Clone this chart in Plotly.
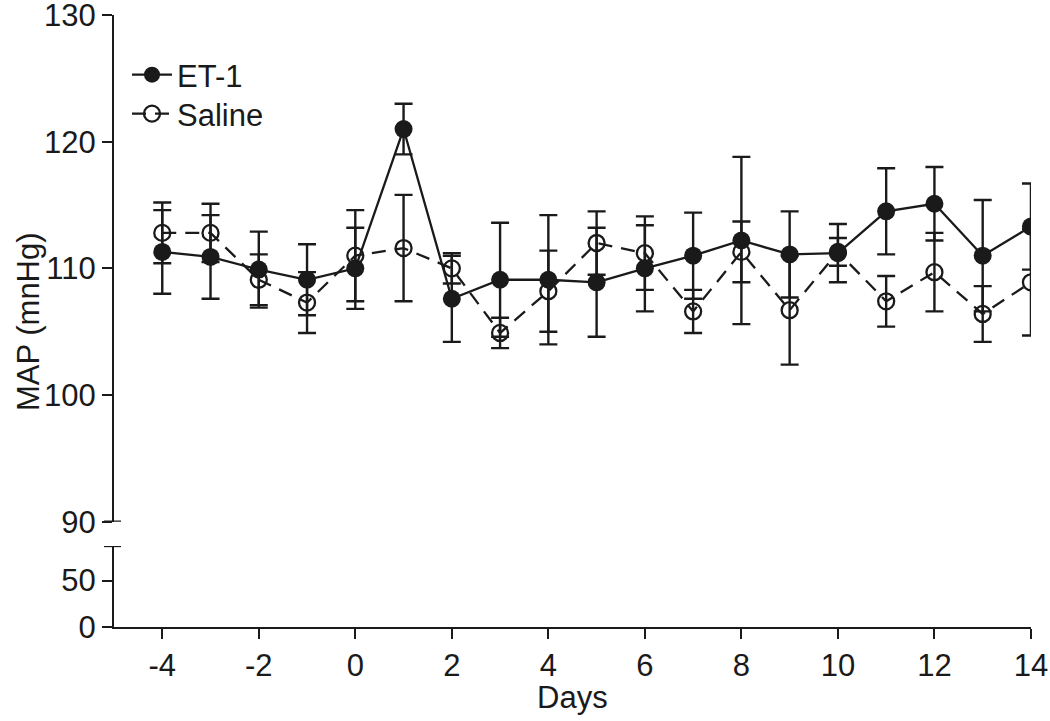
import plotly.graph_objects as go

days = list(range(-4, 15))
et1_mean = [111.3, 110.9, 109.9, 109.1, 110.0, 121.0, 107.6, 109.1, 109.1, 108.9,
            110.0, 111.0, 112.2, 111.1, 111.2, 114.5, 115.1, 111.0, 113.3]
et1_sem = [3.3, 3.3, 3.0, 2.8, 3.2, 2.0, 3.4, 4.5, 5.1, 4.3,
           3.4, 3.4, 6.6, 3.4, 2.3, 3.4, 2.9, 4.4, 3.4]
sal_mean = [112.8, 112.8, 109.1, 107.3, 111.0, 111.6, 110.0, 104.9, 108.2, 112.0,
            111.2, 106.6, 111.3, 106.7, 111.3, 107.4, 109.7, 106.4, 108.9]
sal_sem = [2.4, 2.3, 2.0, 2.4, 3.6, 4.2, 1.2, 1.2, 3.2, 2.5,
           2.9, 1.7, 2.4, 4.3, 1.1, 2.0, 3.1, 2.2, 4.2]

x_ticks = [-4, -2, 0, 2, 4, 6, 8, 10, 12, 14]
x_ticktext = ["-4", "-2", "0", "2", "4", "6", "8", "10", "12", "14"]
upper_ticks = [90, 100, 110, 120, 130]
lower_ticks = [0, 50]

INK = "#1a1a1a"
FONT = "Liberation Sans, Arial, sans-serif"
FS = 31
W, H = 1050, 721
# plot area in page pixels
PL, PR, PT, PB = 114, 1031, 15, 627
PW = PR - PL
PH = PB - PT


def py(page_y):
    return (PB - page_y) / PH


def px(page_x):
    return (page_x - PL) / PW


fig = go.Figure()

fig.add_trace(go.Scatter(
    x=days, y=sal_mean, name="Saline", mode="lines+markers",
    line=dict(color=INK, width=2.3, dash="14px,9px"),
    marker=dict(symbol="circle-open", size=16, color=INK, line=dict(width=2.3, color=INK)),
    error_y=dict(type="data", array=sal_sem, visible=True, color=INK, thickness=2.4, width=9),
    legend="legend2",
))
fig.add_trace(go.Scatter(
    x=days, y=et1_mean, name="ET-1", mode="lines+markers",
    line=dict(color=INK, width=2.3),
    marker=dict(symbol="circle", size=18, color=INK),
    error_y=dict(type="data", array=et1_sem, visible=True, color=INK, thickness=2.4, width=9),
    legend="legend",
))
fig.add_trace(go.Scatter(x=[], y=[], xaxis="x", yaxis="y2", showlegend=False, hoverinfo="skip"))

lower_top = 87.1
axis_common = dict(showline=True, linecolor=INK, linewidth=2.3, ticks="outside",
                   ticklen=10, tickwidth=2.3, tickcolor=INK, showgrid=False, zeroline=False,
                   ticklabeloverflow="allow",
                   tickfont=dict(family=FONT, size=FS, color=INK))

legend_common = dict(xanchor="left", yanchor="top", font=dict(family=FONT, size=FS, color=INK),
                     bgcolor="rgba(0,0,0,0)", itemwidth=40)

fig.update_layout(
    width=W, height=H,
    margin=dict(l=PL, r=W - PR, t=PT, b=H - PB, autoexpand=False),
    paper_bgcolor="white", plot_bgcolor="white",
    font=dict(family=FONT, size=FS, color=INK),
    xaxis=dict(range=[-5, 14.001], tickvals=x_ticks, ticktext=x_ticktext, anchor="y2", **axis_common),
    yaxis=dict(range=[90, 130.001], tickvals=upper_ticks, domain=[py(521.7), 1.0],
               anchor="x", **axis_common),
    yaxis2=dict(range=[0, lower_top], tickvals=lower_ticks, domain=[0, py(546)],
                anchor="x", **axis_common),
    legend=dict(x=px(127), y=py(48), **legend_common),
    legend2=dict(x=px(127), y=py(87), **legend_common),
    showlegend=True,
    annotations=[
        dict(text="MAP (mnHg)", xref="paper", yref="paper", x=px(28), y=py(322),
             textangle=-90, showarrow=False, xanchor="center", yanchor="middle",
             font=dict(family=FONT, size=FS, color=INK)),
        dict(text="Days", xref="paper", yref="paper", x=px(572), y=py(697),
             showarrow=False, xanchor="center", yanchor="middle",
             font=dict(family=FONT, size=FS, color=INK)),
    ],
    shapes=[
        dict(type="line", xref="paper", yref="y", x0=-10 / PW, x1=7 / PW, y0=90, y1=90,
             line=dict(color=INK, width=2.3)),
        dict(type="line", xref="paper", yref="y2", x0=-10 / PW, x1=7 / PW, y0=lower_top, y1=lower_top,
             line=dict(color=INK, width=2.3)),
    ],
)

fig.write_html("out.html", config={"displayModeBar": False},
               post_script="document.body.style.margin='0';document.body.style.overflow='hidden';")
